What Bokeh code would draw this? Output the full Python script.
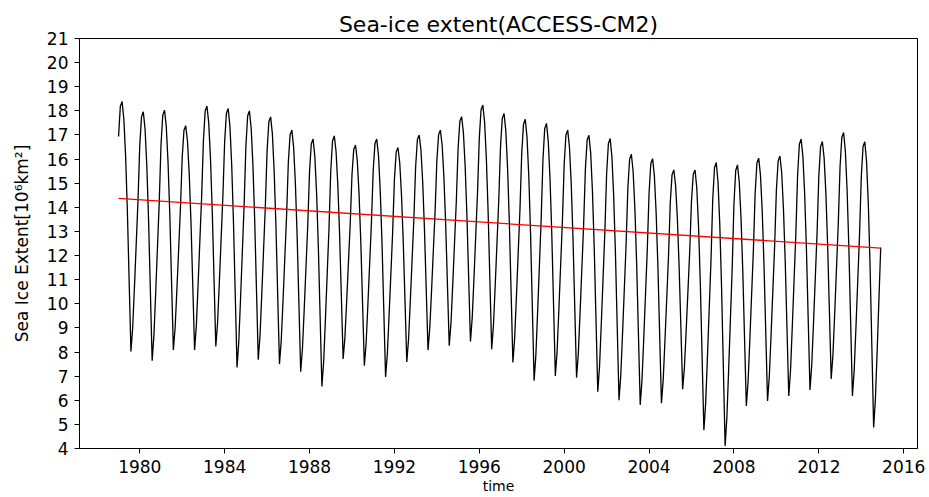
from bokeh.plotting import figure
from bokeh.models import FixedTicker, Range1d, ColumnDataSource
from bokeh.embed import file_html
from bokeh.resources import INLINE

# ---- data ----
years = list(range(1979, 2015))
# annual maximum (late winter) extent, 10^6 km^2
annual_max = [18.39, 17.96, 18.03, 17.38, 18.20, 18.10, 18.00, 17.75, 17.20, 16.83,
              16.96, 16.58, 16.83, 16.48, 17.00, 17.20, 17.76, 18.24, 17.89, 17.65,
              17.48, 17.20, 16.99, 16.85, 16.20, 16.02, 15.55, 15.55, 15.86, 15.76,
              16.04, 16.13, 16.83, 16.73, 17.10, 16.72]
# annual minimum (late summer) extent, 10^6 km^2
annual_min = [8.02, 7.64, 8.09, 8.09, 8.23, 7.36, 7.68, 7.50, 7.18, 6.57,
              7.71, 7.43, 6.97, 7.59, 8.08, 8.26, 8.44, 8.12, 7.57, 6.81,
              7.01, 6.94, 6.35, 6.00, 5.81, 5.88, 6.46, 4.76, 4.11, 5.76,
              5.97, 6.18, 6.43, 6.88, 6.18, 4.87]
# position of each month between the neighbouring minimum and maximum (Jan..Dec)
season_frac = [0.86, 0.98, 1.00, 0.93, 0.78, 0.56, 0.28, 0.00, 0.10, 0.27, 0.45, 0.63]

# linear trend line end values
trend_x = [1979.0, 2014 + 11 / 12]
trend_y = [14.37, 12.31]

x_ticks = [1980, 1984, 1988, 1992, 1996, 2000, 2004, 2008, 2012, 2016]
y_ticks = list(range(4, 22))

# ---- monthly series assembled from the annual extremes ----
t, ext = [], []
n = len(years)
for i, yr in enumerate(years):
    for m in range(12):
        if m < 3:
            lo = annual_min[i - 1] if i > 0 else annual_min[i]
            hi = annual_max[i]
        elif m < 8:
            lo = annual_min[i]
            hi = annual_max[i]
        else:
            lo = annual_min[i]
            hi = annual_max[i + 1] if i < n - 1 else annual_max[i]
        t.append(yr + m / 12)
        ext.append(lo + season_frac[m] * (hi - lo))

src = ColumnDataSource(dict(t=t, ext=ext))

FONT = "DejaVu Sans"

p = figure(width=929, height=497, output_backend="svg", toolbar_location=None,
           x_range=Range1d(1977.16, 2016.65), y_range=Range1d(4, 21),
           title="Sea-ice extent(ACCESS-CM2)",
           x_axis_label="time", y_axis_label="Sea Ice Extent[10⁶km²]")
p.min_border_left = 79
p.min_border_right = 12
p.min_border_top = 38
p.min_border_bottom = 49
p.background_fill_color = "white"
p.border_fill_color = "white"
p.outline_line_color = "black"
p.outline_line_width = 1
p.xgrid.visible = False
p.ygrid.visible = False

p.title.align = "center"
p.title.text_font = FONT
p.title.text_font_size = "22px"
p.title.text_font_style = "normal"
p.title.text_color = "black"
p.title.standoff = 4

for ax in (p.xaxis[0], p.yaxis[0]):
    ax.axis_line_color = "black"
    ax.major_tick_line_color = "black"
    ax.major_tick_in = 0
    ax.major_tick_out = 5
    ax.minor_tick_line_color = None
    ax.major_label_text_font = FONT
    ax.major_label_text_font_size = "17px"
    ax.major_label_text_color = "black"
    ax.axis_label_text_font = FONT
    ax.axis_label_text_font_style = "normal"
    ax.axis_label_text_color = "black"

p.xaxis.ticker = FixedTicker(ticks=x_ticks)
p.xaxis.major_label_overrides = {v: str(v) for v in x_ticks}
p.xaxis.major_label_standoff = 6
p.xaxis.axis_label_text_font_size = "14px"
p.xaxis.axis_label_standoff = 2

p.yaxis.ticker = FixedTicker(ticks=y_ticks)
p.yaxis.major_label_overrides = {v: str(v) for v in y_ticks}
p.yaxis.major_label_standoff = 6
p.yaxis.axis_label_text_font_size = "17px"
p.yaxis.axis_label_standoff = 12

p.line("t", "ext", source=src, line_color="black", line_width=1.3)
p.line(trend_x, trend_y, line_color="red", line_width=1.3)

open("out.html", "w").write(file_html(p, INLINE))
